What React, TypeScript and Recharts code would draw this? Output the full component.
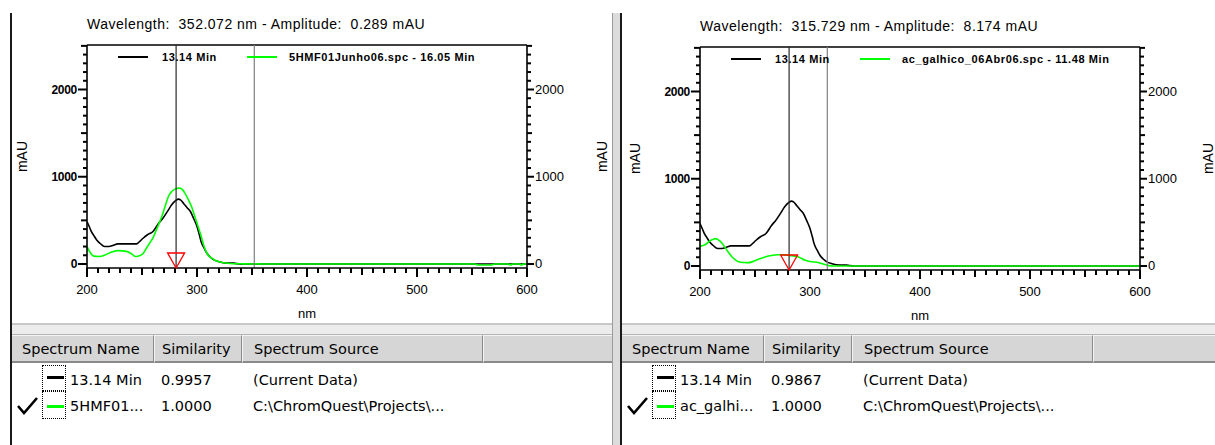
import React from "react";
import {
  LineChart,
  Line,
  XAxis,
  YAxis,
  ReferenceLine,
  ReferenceDot,
  Legend,
} from "recharts";

// 13.14 Min (current data), shared by both panels
const NM_CURRENT = [200, 202, 204, 206, 209, 212, 216, 220, 224, 228, 235, 245, 248, 251, 255, 260, 265, 269, 273, 277, 280, 283, 285, 288, 291, 294, 297, 300, 302, 304, 307, 309, 312, 315, 320, 327, 333, 336, 340, 600];
const AU_CURRENT = [486, 430, 371, 330, 272, 235, 200, 200, 215, 230, 230, 230, 260, 295, 335, 372, 465, 525, 600, 678, 720, 743, 735, 690, 645, 602, 520, 429, 340, 245, 170, 123, 80, 50, 25, 10, 10, 4, 0, 0];

// 5HMF01Junho06.spc - 16.05 Min
const NM_HMF = [200, 203, 206, 211, 216, 221, 228, 236, 241, 244, 247, 251, 254, 257, 260, 264, 268, 271, 274, 277, 280, 284, 287, 289, 292, 295, 298, 301, 304, 306, 308, 310, 313, 316, 320, 324, 330, 340, 360, 552, 556, 567, 571, 583, 585, 587, 593, 595, 597, 600];
const AU_HMF = [199, 130, 90, 85, 100, 130, 153, 145, 112, 85, 92, 120, 180, 240, 300, 420, 544, 660, 774, 830, 858, 870, 850, 812, 740, 659, 545, 429, 310, 218, 150, 103, 70, 46, 25, 15, 5, 2, 0, 0, -12, -12, 0, 0, -12, 0, 0, -12, 0, 0];

// ac_galhico_06Abr06.spc - 11.48 Min
const NM_GAL = [200, 205, 209, 212, 214, 216, 218, 221, 223, 226, 229, 232, 235, 240, 244, 248, 253, 258, 262, 266, 271, 276, 281, 285, 289, 292, 295, 300, 308, 313, 317, 322, 600];
const AU_GAL = [227, 246, 288, 305, 314, 305, 288, 245, 208, 155, 106, 72, 49, 40, 38, 50, 76, 98, 114, 124, 129, 128, 122, 115, 106, 88, 68, 52, 38, 20, 4, 0, 0];

const LEFT_NAMES = ["13.14 Min", "5HMF01..."];
const LEFT_SIMS = ["0.9957", "1.0000"];
const RIGHT_NAMES = ["13.14 Min", "ac_galhi..."];
const RIGHT_SIMS = ["0.9867", "1.0000"];
const SOURCES = ["(Current Data)", "C:\\ChromQuest\\Projects\\..."];
const HEADERS = ["Spectrum Name", "Similarity", "Spectrum Source", ""];

const X_DOMAIN: [number, number] = [200, 600];
const Y_DOMAIN: [number, number] = [-46, 2510];
const X_TICKS = Array.from({ length: 41 }, (_, i) => 200 + i * 10);
const Y_TICKS = Array.from({ length: 26 }, (_, i) => i * 100);
const APEX_NM = 281;

// plot box is 440 x 223 px; used to turn tick-mark lengths into axis units
const NM_PER_PX = (X_DOMAIN[1] - X_DOMAIN[0]) / 440;
const AU_PER_PX = (Y_DOMAIN[1] - Y_DOMAIN[0]) / 223;

const PLOT_FONT = "'Liberation Sans', Arial, sans-serif";
const LIST_FONT = "'DejaVu Sans', Verdana, sans-serif";

const pairs = (xs: number[], ys: number[]) => xs.map((nm, i) => ({ nm, v: ys[i] }));
const CURRENT = pairs(NM_CURRENT, AU_CURRENT);
const HMF = pairs(NM_HMF, AU_HMF);
const GAL = pairs(NM_GAL, AU_GAL);

const xTickLen = (v: number) => (v % 100 === 0 ? 9 : v % 50 === 0 ? 7 : 5);
const yTickLenL = (v: number) => (v % 1000 === 0 ? 9 : v % 500 === 0 ? 6 : 4);
const yTickLenR = (v: number) => (v % 1000 === 0 ? 7 : v % 500 === 0 ? 5 : 4);

// tickSize and tickMargin are 0, so x, y arrive on the axis line
function XTick({ x, y, payload }: any) {
  const v = payload.value;
  if (v % 100 !== 0) return <g />;
  return (
    <text x={x} y={y + 26} textAnchor="middle" fontSize={13} fontFamily={PLOT_FONT} fill="#000">
      {v}
    </text>
  );
}

function YTickLeft({ x, y, payload }: any) {
  const v = payload.value;
  if (v % 1000 !== 0) return <g />;
  return (
    <text x={x - 10} y={y + 4.5} textAnchor="end" fontSize={12} fontWeight="bold" letterSpacing={-0.3} fontFamily={PLOT_FONT} fill="#000">
      {v}
    </text>
  );
}

function YTickRight({ x, y, payload }: any) {
  const v = payload.value;
  if (v % 1000 !== 0) return <g />;
  return (
    <text x={x + 8} y={y + 4.5} textAnchor="start" fontSize={13} fontFamily={PLOT_FONT} fill="#000">
      {v}
    </text>
  );
}

const LEG_SEG_X = [106, 235];
const LEG_TEXT_X = [150, 277];

function LegendBox(props: any) {
  const items = props.payload || [];
  return (
    <div style={{ position: "relative", width: 600, height: 16 }}>
      {items.map((it: any, i: number) => (
        <React.Fragment key={i}>
          <div style={{ position: "absolute", left: LEG_SEG_X[i], top: 7, width: 30, height: 1.5, background: it.color }} />
          <div
            style={{
              position: "absolute",
              left: LEG_TEXT_X[i],
              top: 0,
              lineHeight: "16px",
              whiteSpace: "nowrap",
              fontFamily: PLOT_FONT,
              fontSize: 11,
              fontWeight: "bold",
              letterSpacing: 0.6,
              color: "#000",
            }}
          >
            {it.value}
          </div>
        </React.Fragment>
      ))}
    </div>
  );
}

function Marker(p: any) {
  return (
    <polygon
      points={`${p.cx - 8.5},${p.cy - 15} ${p.cx + 8.5},${p.cy - 15} ${p.cx},${p.cy}`}
      fill="none"
      stroke="#ff0000"
      strokeWidth={1.3}
    />
  );
}

function SpectrumPlot({
  left,
  top,
  title,
  cursorNm,
  libName,
  libData,
  rightLabelDx,
}: {
  left: number;
  top: number;
  title: string;
  cursorNm: number;
  libName: string;
  libData: { nm: number; v: number }[];
  rightLabelDx: number;
}) {
  const mauLabel = (dx: number) => (p: any) => {
    const vb = p.viewBox;
    const cx = vb.x + dx;
    const cy = vb.y + vb.height / 2;
    return (
      <text
        x={cx}
        y={cy}
        transform={`rotate(-90 ${cx} ${cy})`}
        textAnchor="middle"
        dominantBaseline="central"
        fontSize={14}
        fontFamily={PLOT_FONT}
        fill="#000"
      >
        mAU
      </text>
    );
  };
  const titleLabel = (p: any) => (
    <text
      x={p.viewBox.x}
      y={p.viewBox.y - 16}
      fontSize={14}
      letterSpacing={0.5}
      fontFamily={PLOT_FONT}
      fill="#000"
      style={{ whiteSpace: "pre" }}
    >
      {title}
    </text>
  );
  const axisLine = { stroke: "#000", strokeWidth: 1.6 };
  return (
    <div style={{ position: "absolute", left, top }}>
      <LineChart width={600} height={310} margin={{ top: 32, right: 35, bottom: 15, left: 30 }}>
        <XAxis
          dataKey="nm"
          type="number"
          domain={X_DOMAIN}
          allowDataOverflow
          ticks={X_TICKS}
          interval={0}
          tickSize={0}
          tickMargin={0}
          tickLine={false}
          height={40}
          axisLine={axisLine}
          tick={(p: any) => <XTick {...p} />}
          label={(p: any) => (
            <text
              x={p.viewBox.x + p.viewBox.width / 2}
              y={p.viewBox.y + 50}
              textAnchor="middle"
              fontSize={13}
              fontFamily={PLOT_FONT}
              fill="#000"
            >
              nm
            </text>
          )}
        />
        <YAxis
          type="number"
          domain={Y_DOMAIN}
          allowDataOverflow
          ticks={Y_TICKS}
          interval={0}
          width={45}
          tickSize={0}
          tickMargin={0}
          tickLine={false}
          axisLine={axisLine}
          tick={(p: any) => <YTickLeft {...p} />}
          label={mauLabel(-20)}
        />
        <YAxis
          yAxisId="r"
          orientation="right"
          type="number"
          domain={Y_DOMAIN}
          allowDataOverflow
          ticks={Y_TICKS}
          interval={0}
          width={50}
          tickSize={0}
          tickMargin={0}
          tickLine={false}
          axisLine={axisLine}
          tick={(p: any) => <YTickRight {...p} />}
          label={mauLabel(rightLabelDx)}
        />
        <Legend
          verticalAlign="middle"
          align="center"
          layout="horizontal"
          wrapperStyle={{ top: 36, left: 0, width: 600, height: 16 }}
          content={LegendBox}
        />
        <Line
          data={CURRENT}
          dataKey="v"
          name="13.14 Min"
          type="monotone"
          stroke="#000000"
          strokeWidth={1.6}
          dot={false}
          isAnimationActive={false}
        />
        <Line
          data={libData}
          dataKey="v"
          name={libName}
          type="monotone"
          stroke="#00ff00"
          strokeWidth={1.6}
          dot={false}
          isAnimationActive={false}
        />
        {X_TICKS.map((t) => (
          <ReferenceLine
            key={`xt${t}`}
            ifOverflow="visible"
            stroke="#000"
            strokeWidth={2}
            segment={[
              { x: t, y: Y_DOMAIN[0] },
              { x: t, y: Y_DOMAIN[0] - xTickLen(t) * AU_PER_PX },
            ]}
          />
        ))}
        {Y_TICKS.map((t) => (
          <ReferenceLine
            key={`yl${t}`}
            ifOverflow="visible"
            stroke="#000"
            strokeWidth={2}
            segment={[
              { x: X_DOMAIN[0] - yTickLenL(t) * NM_PER_PX, y: t },
              { x: X_DOMAIN[0], y: t },
            ]}
          />
        ))}
        {Y_TICKS.map((t) => (
          <ReferenceLine
            key={`yr${t}`}
            ifOverflow="visible"
            stroke="#000"
            strokeWidth={2}
            segment={[
              { x: X_DOMAIN[1], y: t },
              { x: X_DOMAIN[1] + yTickLenR(t) * NM_PER_PX, y: t },
            ]}
          />
        ))}
        <ReferenceLine y={Y_DOMAIN[1]} stroke="#000" strokeWidth={1.6} label={titleLabel} />
        <ReferenceLine x={APEX_NM} stroke="#2a2a2a" strokeWidth={1.2} />
        <ReferenceLine x={cursorNm} stroke="#808080" strokeWidth={1.2} />
        <ReferenceDot x={APEX_NM} y={Y_DOMAIN[0]} shape={Marker} />
      </LineChart>
    </div>
  );
}

const COL_X = [0, 142, 230, 471];
const HEAD_PAD = [10, 7, 11, 0];
const ROW_TOP = [368, 394];
const BOX_TOP = [365, 391];
const BOX_H = [26, 28];
const DASH_TOP = [376, 405];

function SpectrumList({
  left,
  width,
  names,
  sims,
  libColor,
}: {
  left: number;
  width: number;
  names: string[];
  sims: string[];
  libColor: string;
}) {
  const dashColors = ["#000000", libColor];
  return (
    <>
      <div
        style={{
          position: "absolute",
          left,
          top: 323,
          width,
          height: 12,
          boxSizing: "border-box",
          background: "#ececec",
          borderTop: "2px solid #c8c8c8",
          borderBottom: "1px solid #b4b4b4",
        }}
      />
      <div style={{ position: "absolute", left, top: 335, width, height: 28, background: "#d6d6d6" }}>
        {HEADERS.map((h, i) => (
          <div
            key={i}
            style={{
              position: "absolute",
              left: COL_X[i],
              top: 0,
              width: (i < 3 ? COL_X[i + 1] : width) - COL_X[i],
              height: 28,
              boxSizing: "border-box",
              borderTop: "1px solid #f4f4f4",
              borderLeft: i === 0 ? "none" : "1px solid #f4f4f4",
              borderRight: i < 3 ? "1px solid #8a8a8a" : "none",
              borderBottom: "2px solid #8a8a8a",
              paddingLeft: HEAD_PAD[i],
              lineHeight: "27px",
              fontFamily: LIST_FONT,
              fontSize: 14.5,
              color: "#000",
              whiteSpace: "nowrap",
            }}
          >
            {h}
          </div>
        ))}
      </div>
      {names.map((n, r) => (
        <React.Fragment key={r}>
          <div
            style={{
              position: "absolute",
              left: left + 30,
              top: BOX_TOP[r],
              width: 24,
              height: BOX_H[r],
              boxSizing: "border-box",
              border: "1px dotted #000",
            }}
          />
          <div
            style={{
              position: "absolute",
              left: left + 35,
              top: DASH_TOP[r],
              width: 17,
              height: 3,
              background: dashColors[r],
            }}
          />
          {[n, sims[r], SOURCES[r]].map((t, c) => (
            <div
              key={c}
              style={{
                position: "absolute",
                left: left + [58, 149, 241][c],
                top: ROW_TOP[r],
                height: 24,
                lineHeight: "24px",
                fontFamily: LIST_FONT,
                fontSize: 14.5,
                color: "#000",
                whiteSpace: "nowrap",
              }}
            >
              {t}
            </div>
          ))}
        </React.Fragment>
      ))}
      <svg style={{ position: "absolute", left, top: 394, overflow: "visible" }} width={30} height={26}>
        <polyline points="6,12 12,19 25,4" fill="none" stroke="#000" strokeWidth={2.6} />
      </svg>
    </>
  );
}

export default function App() {
  return (
    <div
      style={{
        position: "absolute",
        left: 0,
        top: 0,
        width: 1215,
        height: 445,
        overflow: "hidden",
        background: "#fff",
      }}
    >
      <div style={{ position: "absolute", left: 10, top: 13, width: 2, height: 432, background: "#1a1a1a" }} />
      <div style={{ position: "absolute", left: 612, top: 13, width: 1, height: 432, background: "#9c9c9c" }} />
      <div style={{ position: "absolute", left: 613, top: 13, width: 7, height: 432, background: "#dcdcdc" }} />
      <div style={{ position: "absolute", left: 620, top: 13, width: 2, height: 432, background: "#1a1a1a" }} />
      <SpectrumPlot
        left={12}
        top={13}
        title="Wavelength:  352.072 nm - Amplitude:  0.289 mAU"
        cursorNm={352.072}
        libName="5HMF01Junho06.spc - 16.05 Min"
        libData={HMF}
        rightLabelDx={75}
      />
      <SpectrumPlot
        left={625}
        top={15}
        title="Wavelength:  315.729 nm - Amplitude:  8.174 mAU"
        cursorNm={315.729}
        libName="ac_galhico_06Abr06.spc - 11.48 Min"
        libData={GAL}
        rightLabelDx={68}
      />
      <SpectrumList left={12} width={600} names={LEFT_NAMES} sims={LEFT_SIMS} libColor="#00ff00" />
      <SpectrumList left={622} width={593} names={RIGHT_NAMES} sims={RIGHT_SIMS} libColor="#00ff00" />
    </div>
  );
}
